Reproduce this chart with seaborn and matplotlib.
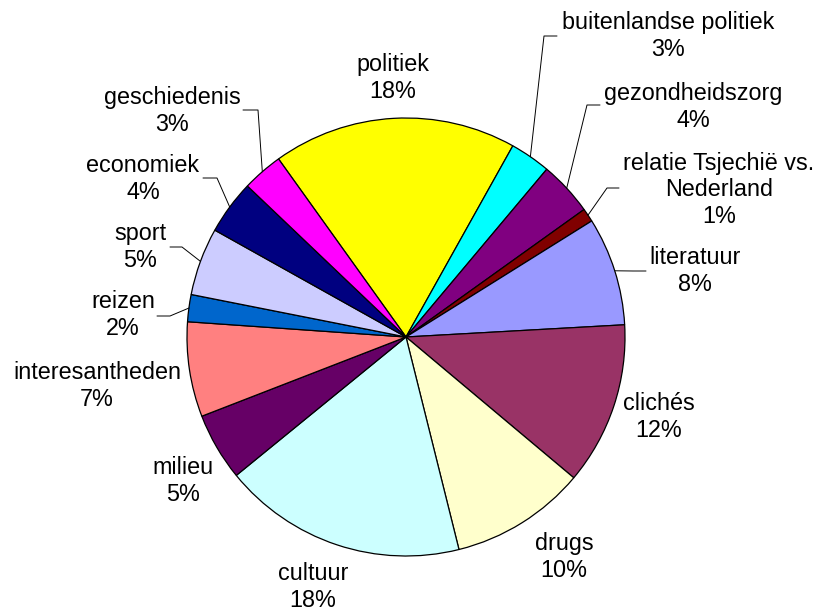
import matplotlib
matplotlib.use('Agg')
import matplotlib.pyplot as plt
import seaborn as sns
import numpy as np

# onderwerpen in volgorde (met de klok mee, vanaf politiek)
onderwerpen = ['politiek', 'buitenlandse politiek', 'gezondheidszorg',
               'relatie Tsjechië vs.\nNederland', 'literatuur', 'clichés', 'drugs',
               'cultuur', 'milieu', 'interesantheden', 'reizen', 'sport',
               'economiek', 'geschiedenis']
percentages = [18, 3, 4, 1, 8, 12, 10, 18, 5, 7, 2, 5, 4, 3]
kleuren = ['#FFFF00', '#00FFFF', '#800080', '#800000', '#9999FF', '#993366',
           '#FFFFCC', '#CCFFFF', '#660066', '#FF8080', '#0066CC', '#CCCCFF',
           '#000080', '#FF00FF']

sns.set_theme(style='white')
plt.rcParams['font.family'] = ['Liberation Sans', 'DejaVu Sans']

W, H = 829, 612
centre = (406, H - 337)
straal = 219

# label positions (pixel coords, centre of the text block)
label_pos = {
    'politiek': (393, 78),
    'buitenlandse politiek': (668, 36),
    'gezondheidszorg': (693, 107),
    'relatie Tsjechië vs.\nNederland': (719, 190),
    'literatuur': (695, 271),
    'clichés': (659, 417),
    'drugs': (564, 557),
    'cultuur': (313, 587),
    'milieu': (183, 481),
    'interesantheden': (97, 386),
    'reizen': (123, 315),
    'sport': (140, 247),
    'economiek': (143, 179),
    'geschiedenis': (172, 111),
}
# leader lines: elbow point and end of the short horizontal piece
leaders = {
    'buitenlandse politiek': ((544, 36), 557),
    'gezondheidszorg': ((587, 105), 600),
    'relatie Tsjechië vs.\nNederland': ((607, 188), 619),
    'literatuur': ((633, 271), 646),
    'geschiedenis': ((258, 110), 243),
    'economiek': ((217, 178), 203),
    'sport': ((182, 247), 170),
    'reizen': ((170, 316), 157),
}

fig = plt.figure(figsize=(W / 100, H / 100), dpi=100)
ax = fig.add_axes([0, 0, 1, 1])

wedges, _ = ax.pie(percentages, colors=kleuren, startangle=125.6, counterclock=False,
                   center=centre, radius=straal,
                   wedgeprops=dict(edgecolor='black', linewidth=0.9))

ax.set_xlim(0, W)
ax.set_ylim(0, H)
ax.set_aspect('equal')
ax.axis('off')

for naam, pct, w in zip(onderwerpen, percentages, wedges):
    x, y = label_pos[naam]
    ax.text(x, H - y, f'{naam}\n{pct}%', ha='center', va='center',
            fontsize=16.8, color='black', linespacing=1.2)
    if naam in leaders:
        (ex, ey), endx = leaders[naam]
        mid = np.deg2rad((w.theta1 + w.theta2) / 2)
        sx = centre[0] + straal * np.cos(mid)
        sy = centre[1] + straal * np.sin(mid)
        ax.plot([sx, ex, endx], [sy, H - ey, H - ey], color='black', lw=0.7)

fig.savefig('out.png', dpi=100, facecolor='white')
